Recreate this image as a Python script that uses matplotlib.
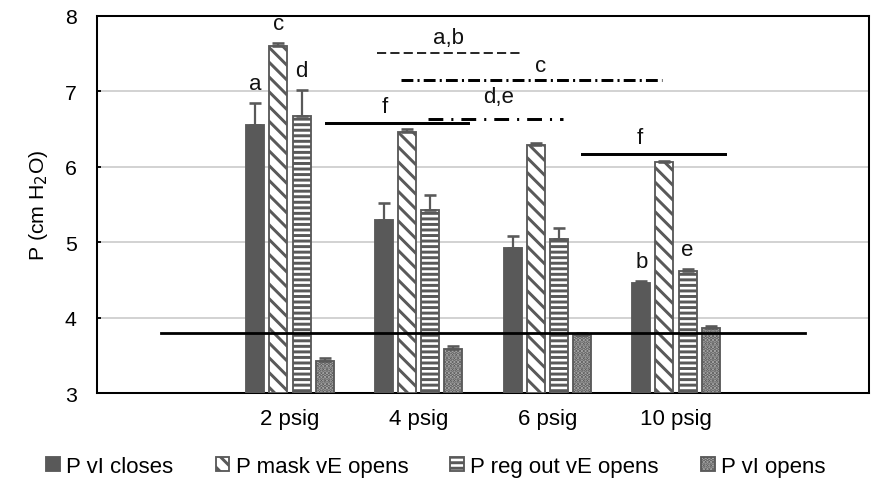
import numpy as np
import matplotlib.pyplot as plt
import matplotlib as mpl

plt.rcParams['font.family'] = ['Liberation Sans', 'DejaVu Sans']
plt.rcParams['hatch.linewidth'] = 1.6

# data
categories = ['', '2 psig', '4 psig', '6 psig', '10 psig', '']
series = ['P vI closes', 'P mask vE opens', 'P reg out vE opens', 'P vI opens']
vi_closes = [6.55, 5.30, 4.92, 4.46]
vi_closes_err = [0.29, 0.22, 0.16, 0.02]
mask_opens = [7.60, 6.46, 6.29, 6.06]
mask_opens_err = [0.04, 0.04, 0.03, 0.02]
reg_opens = [6.67, 5.43, 5.04, 4.62]
reg_opens_err = [0.35, 0.20, 0.15, 0.03]
vi_opens = [3.43, 3.59, 3.77, 3.86]
vi_opens_err = [0.04, 0.04, 0.03, 0.03]
baseline = 3.80

# significance brackets: (x0, x1, y, label, label_x, label_y)
sig_lines = [
    (1.68, 2.80, 7.51, 'a,b', 2.23, 7.72),
    (1.86, 3.89, 7.15, 'c', 2.95, 7.34),
    (2.07, 3.12, 6.64, 'd,e', 2.62, 6.93),
    (1.28, 2.38, 6.58, 'f', 1.74, 6.80),
    (3.27, 4.38, 6.17, 'f', 3.72, 6.39),
]
bar_letters = [(0, 0, 'a'), (0, 1, 'c'), (0, 2, 'd'), (3, 0, 'b'), (3, 2, 'e')]

dark = '#595959'
fig = plt.figure(figsize=(6.54, 3.6375), dpi=133.33)
ax = fig.add_axes([0.1112, 0.1876, 0.8854, 0.7774])

x = np.arange(1, 5)
step = 0.18
width = 0.14
vals = [vi_closes, mask_opens, reg_opens, vi_opens]
errs = [vi_closes_err, mask_opens_err, reg_opens_err, vi_opens_err]
styles = [
    dict(color=dark, edgecolor=dark, hatch=None),
    dict(color='white', edgecolor=dark, hatch='\\\\\\'),
    dict(color='white', edgecolor=dark, hatch='----'),
    dict(color='#b4b4b4', edgecolor=dark, hatch='......'),
]
handles = []
for i, (v, e, st) in enumerate(zip(vals, errs, styles)):
    xs = x + (i - 1.5) * step
    b = ax.bar(xs, np.array(v) - 3, width, bottom=3, label=series[i],
               color=st['color'], edgecolor=st['edgecolor'], hatch=st['hatch'],
               linewidth=1.0, zorder=3)
    ax.errorbar(xs, v, yerr=[np.zeros(len(e)), e], fmt='none', ecolor=dark,
                elinewidth=1.2, capsize=3.5, capthick=1.4, zorder=4)
    handles.append(b)

for g, i, lab in bar_letters:
    xs = x[g] + (i - 1.5) * step
    top = vals[i][g] + errs[i][g]
    ax.text(xs, top + 0.12, lab, ha='center', va='bottom', fontsize=12, color='#111111')

ax.plot([0, 5], [baseline, baseline], color='black', lw=1.5, zorder=5)

line_styles = [
    dict(lw=0.9, dashes=(5.5, 2.5)),
    dict(lw=1.6, dashes=(4.0, 1.4, 0.7, 1.4)),
    dict(lw=1.6, dashes=(5.0, 2.7, 0.7, 2.7)),
    dict(lw=1.6, dashes=()),
    dict(lw=1.6, dashes=()),
]
for (x0, x1, y, lab, lx, ly), ls in zip(sig_lines, line_styles):
    if ls['dashes']:
        ax.plot([x0, x1], [y, y], color='black', lw=ls['lw'], dashes=ls['dashes'], zorder=5)
    else:
        ax.plot([x0, x1], [y, y], color='black', lw=ls['lw'], zorder=5)
    ax.text(lx, ly, lab, ha='center', va='center', fontsize=12, color='#111111')

ax.set_xlim(-0.5, 5.5)
ax.set_ylim(3, 8)
ax.set_xticks(range(len(categories)), categories)
ax.set_yticks([3, 4, 5, 6, 7, 8])
ax.tick_params(axis='x', length=0, pad=8, labelsize=12)
ax.tick_params(axis='y', direction='in', length=2, width=1, pad=11, labelsize=11.5)
ax.yaxis.grid(True, color='#d0d0d0', lw=1.0, zorder=0)
ax.set_axisbelow(True)
for sp in ax.spines.values():
    sp.set_linewidth(1.1)
    sp.set_color('black')

ax.set_ylabel('P (cm H$_2$O)', fontsize=11.5, labelpad=8)

fig.legend(handles=handles, loc='center', bbox_to_anchor=(0.5, 0.037), ncol=4,
           frameon=False, fontsize=12, handlelength=0.6, handleheight=0.6,
           handletextpad=0.3, columnspacing=1.9)

fig.savefig('out.png', dpi=133.33)
